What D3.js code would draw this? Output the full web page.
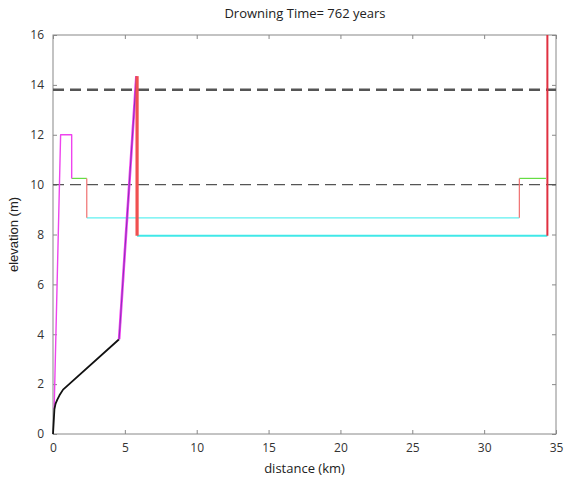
<!DOCTYPE html>
<html lang="en">
<head>
  <meta charset="UTF-8">
  <title>Drowning Time</title>
  <script src="https://d3js.org/d3.v7.min.js"></script>
  <style>
    body { margin: 0; background: #fff; }
    text { font-family: 'Open Sans', Arial, sans-serif; fill: #222; }
    .axis text { font-size: 12px; fill: #333; }
    .axis line, .axis path { stroke: #888; }
  </style>
</head>
<body>
  <div id="chart"></div>
  <script>
    const title = "Drowning Time= 762 years";
    const xTicks = [0, 5, 10, 15, 20, 25, 30, 35];
    const yTicks = [0, 2, 4, 6, 8, 10, 12, 14, 16];

    // bathymetry profile, black (km, m)
    const blackLine = [[0, 0], [0.1, 1.0], [0.18, 1.22], [0.3, 1.38], [0.45, 1.55], [0.7, 1.78], [4.6, 3.8]];
    // magenta reef flanks
    const magentaLeft = [[0.08, 1.0], [0.53, 12], [1.3, 12], [1.3, 10.25]];
    const magentaRight = [[4.6, 3.8], [5.8, 14.35]];
    // lagoon steps
    const greenSteps = [[[1.3, 10.25], [2.35, 10.25]], [[32.45, 10.25], [34.3, 10.25]]];
    const salmonSteps = [[[2.35, 10.25], [2.35, 8.67]], [[32.45, 8.67], [32.45, 10.25]]];
    const cyanUpper = [[2.35, 8.67], [32.45, 8.67]];
    const cyanLower = [[5.85, 7.95], [34.4, 7.95]];
    const redThick = [[5.85, 14.35], [5.85, 7.95]];
    const redRight = [[34.4, 7.95], [34.4, 16]];
    // sea levels
    const seaLevelHigh = 13.8;
    const seaLevelLow = 10;

    const width = 571, height = 486;
    const margin = {top: 35, right: 15, bottom: 52, left: 53};

    const svg = d3.select("#chart").append("svg")
      .attr("width", width).attr("height", height);

    const x = d3.scaleLinear().domain([0, 35]).range([margin.left, width - margin.right]);
    const y = d3.scaleLinear().domain([0, 16]).range([height - margin.bottom, margin.top]);

    const line = d3.line().x(d => x(d[0])).y(d => y(d[1]));

    function draw(pts, color, w) {
      svg.append("path").attr("d", line(pts))
        .attr("fill", "none").attr("stroke", color).attr("stroke-width", w)
        .attr("stroke-linejoin", "round");
    }

    // axes with inward ticks
    svg.append("g").attr("class", "axis")
      .attr("transform", `translate(0,${y(0)})`)
      .call(d3.axisBottom(x).tickValues(xTicks).tickSize(-4).tickPadding(9))
      .call(g => g.select(".domain").remove());
    svg.append("g").attr("class", "axis")
      .attr("transform", `translate(${x(0)},0)`)
      .call(d3.axisLeft(y).tickValues(yTicks).tickSize(-4).tickPadding(9))
      .call(g => g.select(".domain").remove());
    svg.append("g").attr("class", "axis")
      .attr("transform", `translate(${x(35)},0)`)
      .call(d3.axisRight(y).tickValues(yTicks).tickSize(-4).tickFormat(""))
      .call(g => g.select(".domain").remove());
    svg.append("g").attr("class", "axis")
      .attr("transform", `translate(0,${y(16)})`)
      .call(d3.axisTop(x).tickValues(xTicks).tickSize(-4).tickFormat(""))
      .call(g => g.select(".domain").remove());
    svg.append("rect")
      .attr("x", x(0)).attr("y", y(16))
      .attr("width", x(35) - x(0)).attr("height", y(0) - y(16))
      .attr("fill", "none").attr("stroke", "#888").attr("stroke-width", 1);

    // sea level lines
    svg.append("line")
      .attr("x1", x(0)).attr("x2", x(35)).attr("y1", y(seaLevelHigh)).attr("y2", y(seaLevelHigh))
      .attr("stroke", "#555").attr("stroke-width", 2.5).attr("stroke-dasharray", "11,6");
    svg.append("line")
      .attr("x1", x(0)).attr("x2", x(35)).attr("y1", y(seaLevelLow)).attr("y2", y(seaLevelLow))
      .attr("stroke", "#555").attr("stroke-width", 1.2).attr("stroke-dasharray", "11,6");

    draw(cyanUpper, "#5ff0f0", 1.3);
    draw(cyanLower, "#40e8e8", 2.2);
    greenSteps.forEach(s => draw(s, "#66dd44", 1.2));
    salmonSteps.forEach(s => draw(s, "#f07070", 1.2));
    draw(magentaLeft, "#ee44ee", 1.4);
    draw(blackLine, "#111", 1.8);
    draw(magentaRight, "#f040f0", 2.6);
    draw(magentaRight, "#8a30b8", 1);
    draw(redThick, "#f05050", 3.2);
    draw(redRight, "#e03040", 2);

    // labels
    svg.append("text").attr("x", 305).attr("y", 18)
      .attr("text-anchor", "middle").attr("font-size", 13).text(title);
    svg.append("text").attr("x", x(17.5)).attr("y", 473)
      .attr("text-anchor", "middle").attr("font-size", 13).text("distance (km)");
    svg.append("text")
      .attr("transform", `translate(18,${y(8)}) rotate(-90)`)
      .attr("text-anchor", "middle").attr("font-size", 13)
      .style("font-family", "'Liberation Sans', Arial, sans-serif")
      .text("elevation (m)");
  </script>
</body>
</html>
